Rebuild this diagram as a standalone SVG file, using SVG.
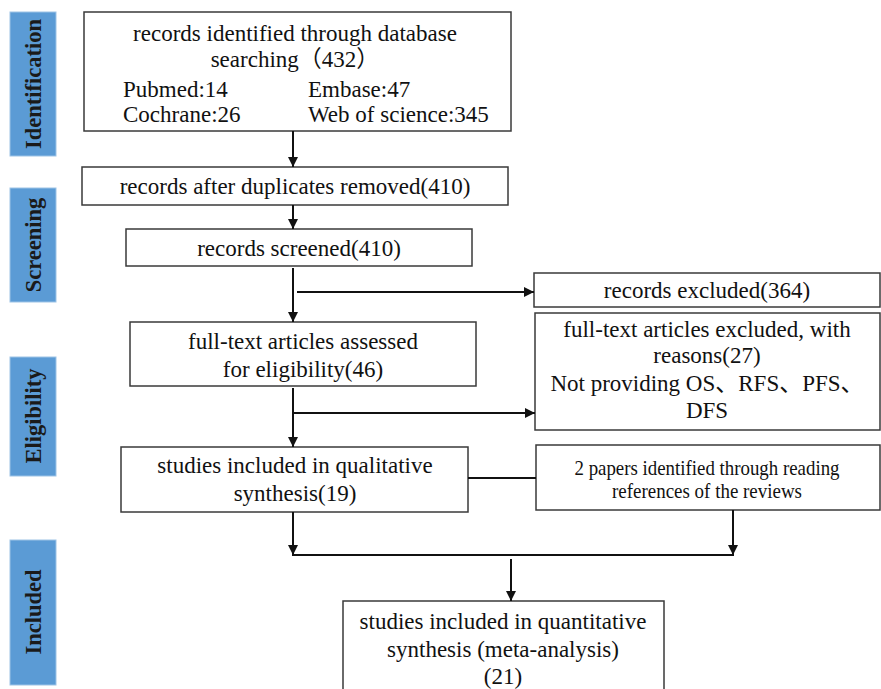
<svg xmlns="http://www.w3.org/2000/svg" width="881" height="689" viewBox="0 0 881 689">
<style>
.bg{fill:#ffffff}
.side rect{fill:#5B9BD5;stroke:#9DC3E6;stroke-width:1}
.side text{font-family:"Liberation Serif",serif;font-weight:bold;font-size:22.5px;fill:#1a1a1a;text-anchor:middle;dominant-baseline:central}
.box rect{fill:#ffffff;stroke:#3a3a3a;stroke-width:1.5}
.box text{font-family:"Liberation Serif",serif;font-size:23px;fill:#111;text-anchor:middle}
.box text.cjk{font-family:"Liberation Serif","Noto Sans CJK SC",serif}
.box text.sm{font-size:21px}
.conn line{stroke:#111;stroke-width:2}
</style>
<defs>
<marker id="ah" viewBox="0 0 10 10" refX="10" refY="5" markerWidth="5" markerHeight="5" orient="auto" markerUnits="strokeWidth">
<path d="M0,0 L10,5 L0,10 z" fill="#111"/>
</marker>
</defs>
<rect class="bg" x="0" y="0" width="881" height="689"/>
<g id="side-identification" class="side"><rect x="10" y="12" width="46" height="144"/><text transform="translate(33,84) rotate(-90)">Identification</text></g>
<g id="side-screening" class="side"><rect x="10" y="188" width="46" height="114"/><text transform="translate(33,245) rotate(-90)">Screening</text></g>
<g id="side-eligibility" class="side"><rect x="10" y="357" width="46" height="119"/><text transform="translate(33,416) rotate(-90)">Eligibility</text></g>
<g id="side-included" class="side"><rect x="10" y="540" width="46" height="145"/><text transform="translate(33,612) rotate(-90)">Included</text></g>

<g id="n-identified" class="box"><rect x="84" y="12" width="427" height="119"/>
<text x="295" y="41">records identified through database</text>
<text class="cjk" x="295" y="67">searching（432）</text>
<text x="123" y="97" style="text-anchor:start">Pubmed:14</text>
<text x="308" y="97" style="text-anchor:start">Embase:47</text>
<text x="123" y="122" style="text-anchor:start">Cochrane:26</text>
<text x="308" y="122" style="text-anchor:start">Web of science:345</text>
</g>
<g id="n-dup" class="box"><rect x="82" y="167" width="426" height="38"/><text x="295" y="194">records after duplicates removed(410)</text></g>
<g id="n-screened" class="box"><rect x="126" y="229" width="346" height="37"/><text x="299" y="256">records screened(410)</text></g>
<g id="n-excluded" class="box"><rect x="534" y="273" width="346" height="34"/><text x="707" y="298">records excluded(364)</text></g>
<g id="n-fulltext" class="box"><rect x="130" y="322" width="346" height="64"/><text x="303" y="349">full-text articles assessed</text><text x="303" y="377">for eligibility(46)</text></g>
<g id="n-ftexcluded" class="box"><rect x="535" y="313" width="345" height="117"/>
<text x="707" y="337">full-text articles excluded, with</text>
<text x="707" y="363">reasons(27)</text>
<text class="cjk" x="707" y="391">Not providing OS、RFS、PFS、</text>
<text x="707" y="418">DFS</text>
</g>
<g id="n-qual" class="box"><rect x="121" y="447" width="347" height="65"/><text x="295" y="473">studies included in qualitative</text><text x="295" y="501">synthesis(19)</text></g>
<g id="n-papers" class="box"><rect x="536" y="445" width="344" height="65"/><text class="sm" x="707" y="475" textLength="265" lengthAdjust="spacingAndGlyphs">2 papers identified through reading</text><text class="sm" x="707" y="498" textLength="190" lengthAdjust="spacingAndGlyphs">references of the reviews</text></g>
<g id="n-quant" class="box"><rect x="343" y="601" width="321" height="100"/>
<text x="503" y="629">studies included in quantitative</text>
<text x="503" y="657">synthesis (meta-analysis)</text>
<text x="503" y="684">(21)</text>
</g>

<g id="connectors" class="conn">
<line x1="293" y1="131" x2="293" y2="167" marker-end="url(#ah)"/>
<line x1="293" y1="205" x2="293" y2="229" marker-end="url(#ah)"/>
<line x1="293" y1="268" x2="293" y2="322" marker-end="url(#ah)"/>
<line x1="297" y1="292" x2="534" y2="292" marker-end="url(#ah)"/>
<line x1="293" y1="388" x2="293" y2="447" marker-end="url(#ah)"/>
<line x1="293" y1="413" x2="535" y2="413" marker-end="url(#ah)"/>
<line x1="468" y1="478" x2="536" y2="478"/>
<line x1="293" y1="512" x2="293" y2="555" marker-end="url(#ah)"/>
<line x1="733" y1="510" x2="733" y2="555" marker-end="url(#ah)"/>
<line x1="292" y1="555" x2="734" y2="555"/>
<line x1="511" y1="559" x2="511" y2="601" marker-end="url(#ah)"/>
</g>
</svg>
